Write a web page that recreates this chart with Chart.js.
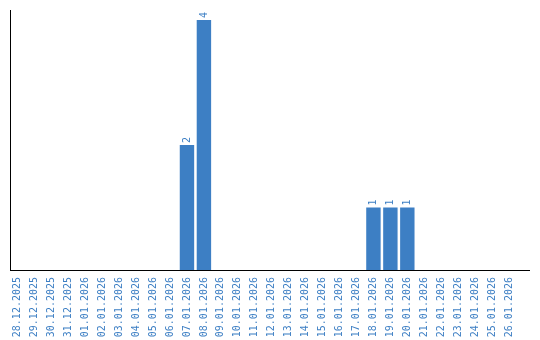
<!DOCTYPE html>
<html>
<head>
<meta charset="utf-8">
<script src="https://cdn.jsdelivr.net/npm/chart.js@4"></script>
<style>
  html, body { margin: 0; padding: 0; background: #fff; }
  #wrap { width: 540px; height: 340px; }
</style>
</head>
<body>
<div id="wrap"><canvas id="barChart" width="540" height="340"></canvas></div>
<script>
var dates = [
	"28.12.2025", "29.12.2025", "30.12.2025", "31.12.2025", "01.01.2026",
	"02.01.2026", "03.01.2026", "04.01.2026", "05.01.2026", "06.01.2026",
	"07.01.2026", "08.01.2026", "09.01.2026", "10.01.2026", "11.01.2026",
	"12.01.2026", "13.01.2026", "14.01.2026", "15.01.2026", "16.01.2026",
	"17.01.2026", "18.01.2026", "19.01.2026", "20.01.2026", "21.01.2026",
	"22.01.2026", "23.01.2026", "24.01.2026", "25.01.2026", "26.01.2026",
];
var counts = [
	0, 0, 0, 0, 0, 0, 0, 0, 0, 0,
	2, 4, 0, 0, 0, 0, 0, 0, 0, 0,
	0, 1, 1, 1, 0, 0, 0, 0, 0, 0,
];

var blue = "#3d7fc4";
var monoFont = "'DejaVu Sans Mono'";

// writes the value above each bar, turned on its side
var valueLabels = {
	id: "valueLabels",
	afterDatasetsDraw: function (chart) {
		var ctx = chart.ctx;
		var meta = chart.getDatasetMeta(0);
		ctx.save();
		ctx.fillStyle = blue;
		ctx.font = "10px " + monoFont;
		ctx.textAlign = "left";
		ctx.textBaseline = "middle";
		meta.data.forEach(function (bar, i) {
			if (!counts[i]) return;
			ctx.save();
			ctx.translate(bar.x, bar.y - 2);
			ctx.rotate(-Math.PI / 2);
			ctx.fillText(String(counts[i]), 0, 0);
			ctx.restore();
		});
		ctx.restore();
	},
};

// the original leaves a small gap on the left and a wider one on the right
var slotShift = {
	id: "slotShift",
	afterLayout: function (chart) {
		var x = chart.scales.x;
		x._startValue = -0.44;
		x._valueRange = dates.length + 0.65;
	},
};

var ctx = document.getElementById("barChart").getContext("2d");
new Chart(ctx, {
	type: "bar",
	data: {
		labels: dates,
		datasets: [
			{
				data: counts,
				backgroundColor: blue,
				categoryPercentage: 1,
				barPercentage: 0.85,
			},
		],
	},
	options: {
		responsive: false,
		animation: false,
		layout: { padding: { left: 10, top: 10, right: 7, bottom: 0 } },
		plugins: { legend: { display: false }, tooltip: { enabled: false } },
		scales: {
			x: {
				grid: { display: false, drawTicks: false },
				border: { color: "#000", width: 1 },
				ticks: {
					color: blue,
					font: { family: monoFont, size: 10 },
					minRotation: 90,
					maxRotation: 90,
					autoSkip: false,
					padding: 7,
				},
				afterFit: function (scale) {
					scale.height = 70;
				},
			},
			y: {
				min: 0,
				max: 4.16,
				grid: { display: false, drawTicks: false },
				border: { color: "#000", width: 1 },
				ticks: { display: false },
			},
		},
	},
	plugins: [valueLabels, slotShift],
});
</script>
</body>
</html>
